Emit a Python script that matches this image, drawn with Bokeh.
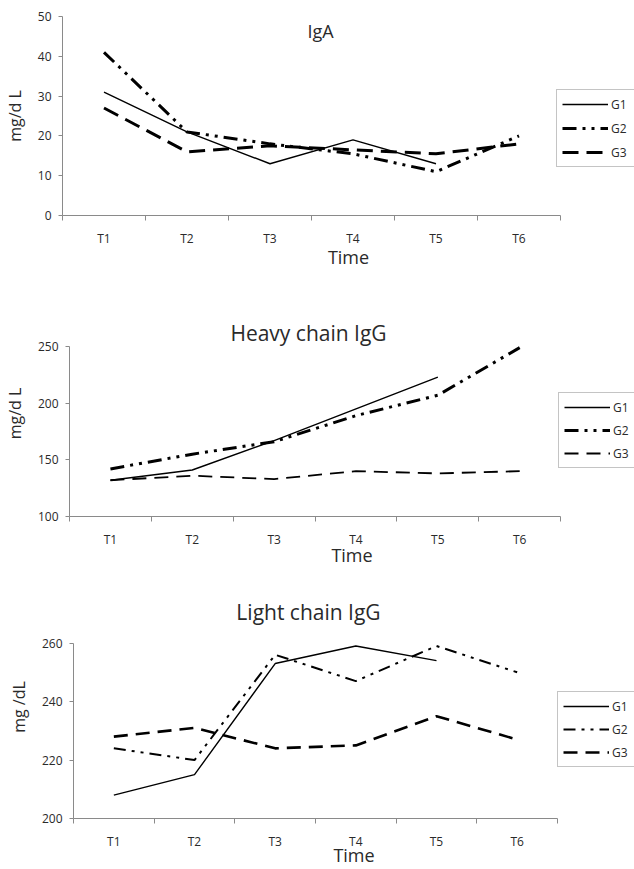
from bokeh.plotting import figure
from bokeh.models import Range1d, FixedTicker, Label, Legend
from bokeh.embed import file_html
from bokeh.resources import INLINE

NaN = float("nan")

times = ["T1", "T2", "T3", "T4", "T5", "T6"]
groups = ["G1", "G2", "G3"]

# IgA (mg/dL)
iga_g1 = [31, 21, 13, 19, 13, NaN]
iga_g2 = [41, 21, 18, 15.5, 11, 20]
iga_g3 = [27, 16, 17.5, 16.5, 15.5, 18]

# Heavy chain IgG (mg/dL)
hc_g1 = [132, 141, 167, 195, 223, NaN]
hc_g2 = [142, 155, 166, 189, 207, 249]
hc_g3 = [132, 136, 133, 140, 138, 140]

# Light chain IgG (mg/dL)
lc_g1 = [208, 215, 253, 259, 254, NaN]
lc_g2 = [224, 220, 256, 247, 259, 250]
lc_g3 = [228, 231, 224, 225, 235, 227]

FONT = "Open Sans"
AX = "#8a8a8a"
TXT = "#2a2a2a"
W = 634


def make_chart(title, title_size, ylabel, series, y_start, y_end, y_step,
               height, left, axis_right, top_pad, data_top, data_bottom,
               legend_loc, title_pos, styles, row_gap, tick_standoff, label_standoff):
    n = len(times)
    xs = list(range(1, n + 1))
    # frame runs to the window's right edge; the axis itself stops at axis_right
    frame_w = W - left
    x_end = 0.5 + n * frame_w / (axis_right - left)
    # frame starts top_pad px above the top data tick so the title can sit inside
    px_per_unit = (data_bottom - data_top) / (y_end - y_start)
    y_top = y_end + top_pad / px_per_unit
    p = figure(width=W, height=height,
               x_range=Range1d(0.5, x_end),
               y_range=Range1d(y_start, y_top),
               output_backend="svg", toolbar_location=None,
               min_border_left=left, min_border_right=0,
               min_border_top=data_top - top_pad,
               min_border_bottom=height - data_bottom)
    p.outline_line_color = None
    p.grid.visible = False
    p.background_fill_color = "white"
    p.border_fill_color = "white"

    xa = p.xaxis[0]
    xa.bounds = (0.5, n + 0.5)
    xa.ticker = FixedTicker(ticks=xs, minor_ticks=[x - 0.5 for x in xs] + [n + 0.5])
    xa.major_label_overrides = {x: t for x, t in zip(xs, times)}
    xa.major_tick_out = 0
    xa.major_tick_in = 0
    xa.minor_tick_out = 5
    xa.minor_tick_in = 0
    xa.minor_tick_line_color = AX
    xa.axis_line_color = AX
    xa.major_label_standoff = tick_standoff
    xa.major_label_text_font = FONT
    xa.major_label_text_font_size = "12px"
    xa.major_label_text_color = TXT
    xa.axis_label = "Time"
    xa.axis_label_text_font = FONT
    xa.axis_label_text_font_size = "18px"
    xa.axis_label_text_font_style = "normal"
    xa.axis_label_text_color = TXT
    xa.axis_label_standoff = label_standoff

    ya = p.yaxis[0]
    ya.bounds = (y_start, y_end)
    ya.ticker = FixedTicker(ticks=list(range(y_start, y_end + 1, y_step)), minor_ticks=[])
    ya.major_tick_out = 4
    ya.major_tick_in = 0
    ya.major_tick_line_color = AX
    ya.axis_line_color = AX
    ya.major_label_standoff = 7
    ya.major_label_text_font = FONT
    ya.major_label_text_font_size = "12px"
    ya.major_label_text_color = TXT
    ya.axis_label = ylabel
    ya.axis_label_text_font = FONT
    ya.axis_label_text_font_size = "16px"
    ya.axis_label_text_font_style = "normal"
    ya.axis_label_text_color = TXT
    ya.axis_label_standoff = 9

    items = []
    for name, vals, st in zip(groups, series, styles):
        width, dash = st
        r = p.line(xs, vals, line_color="black", line_width=width, line_dash=dash)
        items.append((name, [r]))

    lg = Legend(items=items, location=legend_loc)
    lg.border_line_color = AX
    lg.border_line_width = 1
    lg.background_fill_color = "white"
    lg.background_fill_alpha = 1
    lg.label_text_font = FONT
    lg.label_text_font_size = "12px"
    lg.label_text_color = TXT
    lg.glyph_width = 46
    lg.glyph_height = 18
    lg.label_height = 18
    lg.label_width = 30
    lg.label_standoff = 3
    lg.spacing = row_gap
    lg.padding = 5
    lg.margin = 0
    p.add_layout(lg, "center")

    p.add_layout(Label(x=title_pos[0], y=title_pos[1], x_units="screen", y_units="screen",
                       text=title, text_align="center", text_baseline="middle",
                       text_font=FONT, text_font_size=title_size, text_color=TXT))
    return p


p1 = make_chart("IgA", "18px", "mg/d L", [iga_g1, iga_g2, iga_g3], 0, 50, 10,
                280, 62, 560, 0, 16, 215, (494, 48), (258, 185),
                [(1.4, "solid"), (3, "14 6 3 6 3 6"), (3, "16 8")], 6, 9, -5)
p2 = make_chart("Heavy chain IgG", "21px", "mg/d L", [hc_g1, hc_g2, hc_g3], 100, 250, 50,
                290, 68, 560, 36, 66, 236, (489, 48), (239, 184),
                [(1.4, "solid"), (3, "14 6 3 6 3 6"), (1.8, "14 8")], 5, 9, -8)
p3 = make_chart("Light chain IgG", "21px", "mg /dL", [lc_g1, lc_g2, lc_g3], 200, 260, 20,
                299, 73, 557, 48, 73, 250, (484, 51), (235, 207),
                [(1.4, "solid"), (2, "12 6 3 6 3 6"), (2.6, "14 8")], 5, 9, -10)

open("out.html", "w").write(file_html([p1, p2, p3], INLINE))
